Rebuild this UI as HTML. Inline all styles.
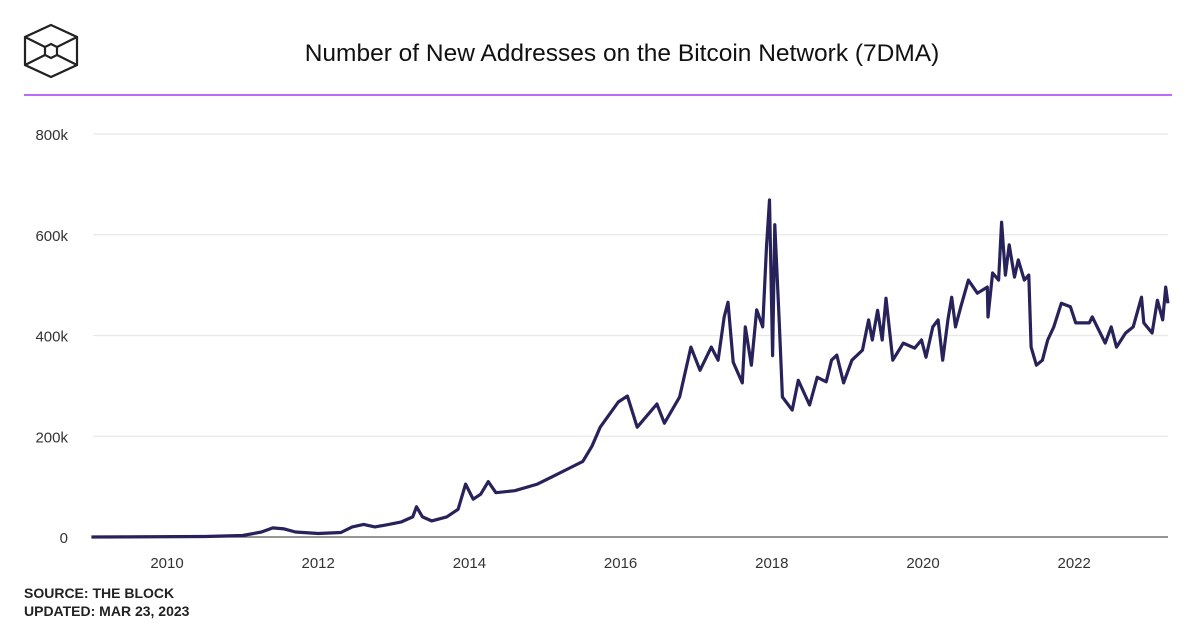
<!DOCTYPE html>
<html><head><meta charset="utf-8"><style>
body{margin:0;background:#fff;width:1200px;height:630px;overflow:hidden;font-family:"Liberation Sans",sans-serif}
</style></head><body>
<svg width="1200" height="630" xmlns="http://www.w3.org/2000/svg">
<g fill="none" stroke="#222" stroke-width="2.2">
<polygon points="51,25 77,37 77,65 51,77 25,65 25,37"/>
<polygon points="51,44 57,47 57,55 51,58 45,55 45,47"/>
<line x1="25" y1="37" x2="45" y2="47"/><line x1="77" y1="37" x2="57" y2="47"/>
<line x1="25" y1="65" x2="45" y2="55"/><line x1="77" y1="65" x2="57" y2="55"/>
</g>
<text x="622" y="61" text-anchor="middle" font-size="24.5" fill="#111">Number of New Addresses on the Bitcoin Network (7DMA)</text>
<line x1="24" y1="95" x2="1172" y2="95" stroke="#a53af5" stroke-width="1.5"/>
<g id="grid"></g><g id="xaxis"></g><g id="yaxis"></g>
<path id="line" fill="none" stroke="#27225a" stroke-width="3.2" stroke-linejoin="round"/>
<text x="24" y="598" font-size="14" font-weight="bold" fill="#222">SOURCE: THE BLOCK</text>
<text x="24" y="616" font-size="14" font-weight="bold" fill="#222">UPDATED: MAR 23, 2023</text>
</svg>
<script>
const years=[2009.0,2010.5,2011.0,2011.25,2011.4,2011.55,2011.7,2012.0,2012.3,2012.45,2012.6,2012.75,2012.9,2013.1,2013.25,2013.3,2013.38,2013.5,2013.7,2013.85,2013.95,2014.05,2014.15,2014.25,2014.35,2014.6,2014.9,2015.1,2015.3,2015.5,2015.62,2015.73,2015.97,2016.09,2016.22,2016.48,2016.58,2016.78,2016.93,2017.05,2017.2,2017.29,2017.37,2017.42,2017.49,2017.61,2017.65,2017.73,2017.8,2017.88,2017.93,2017.97,2018.01,2018.04,2018.1,2018.14,2018.27,2018.35,2018.5,2018.6,2018.72,2018.79,2018.86,2018.95,2019.06,2019.2,2019.28,2019.33,2019.4,2019.46,2019.51,2019.6,2019.74,2019.89,2019.98,2020.04,2020.13,2020.2,2020.26,2020.33,2020.38,2020.43,2020.5,2020.6,2020.72,2020.85,2020.86,2020.92,2021.0,2021.04,2021.09,2021.14,2021.21,2021.26,2021.34,2021.4,2021.43,2021.5,2021.58,2021.65,2021.73,2021.83,2021.95,2022.02,2022.2,2022.24,2022.41,2022.49,2022.56,2022.68,2022.78,2022.89,2022.92,2023.03,2023.1,2023.17,2023.21,2023.24];
const values=[0,1,3,10,18,16,10,7,9,20,25,20,24,30,40,60,40,32,40,55,105,75,85,110,88,92,105,120,135,150,180,218,268,280,218,264,226,278,377,331,377,351,437,466,347,306,417,341,451,417,576,669,360,620,420,278,252,311,262,317,308,351,361,306,351,371,431,391,450,391,474,351,385,375,391,357,417,431,351,431,476,417,457,510,484,496,437,524,510,625,520,580,516,550,510,520,377,341,351,391,417,464,457,425,425,437,385,417,377,405,417,476,425,405,470,431,496,464];
const yTicks=[0,200,400,600,800];
const yTickLabels=["0","200k","400k","600k","800k"];
const xTicks=[2010,2012,2014,2016,2018,2020,2022];
const NS="http://www.w3.org/2000/svg";
const x=v=>167+(v-2010)*75.6;
const y=v=>537-v/800*403;
const grid=document.getElementById('grid'),xa=document.getElementById('xaxis'),ya=document.getElementById('yaxis');
yTicks.forEach((t,i)=>{
 const l=document.createElementNS(NS,'line');
 
 
 l.setAttribute('x1',93);l.setAttribute('x2',1168);l.setAttribute('y1',y(t));l.setAttribute('y2',y(t));
 l.setAttribute('stroke',t===0?'#555':'#e8e8e8');l.setAttribute('stroke-width',1.2);
 grid.appendChild(l);
 const tx=document.createElementNS(NS,'text');
 
 
 tx.setAttribute('x',68);tx.setAttribute('y',y(t)+6);tx.setAttribute('text-anchor','end');
 tx.setAttribute('font-size','15');tx.setAttribute('fill','#333');tx.textContent=yTickLabels[i];
 ya.appendChild(tx);
});
xTicks.forEach(t=>{
 const tx=document.createElementNS(NS,'text');
 
 
 tx.setAttribute('x',x(t));tx.setAttribute('y',568);tx.setAttribute('text-anchor','middle');
 tx.setAttribute('font-size','15');tx.setAttribute('fill','#333');tx.textContent=t;
 xa.appendChild(tx);
});
document.getElementById('line').setAttribute('d',years.map((v,i)=>(i?'L':'M')+x(v).toFixed(1)+','+y(values[i]).toFixed(1)).join(''));
</script>
</body></html>
